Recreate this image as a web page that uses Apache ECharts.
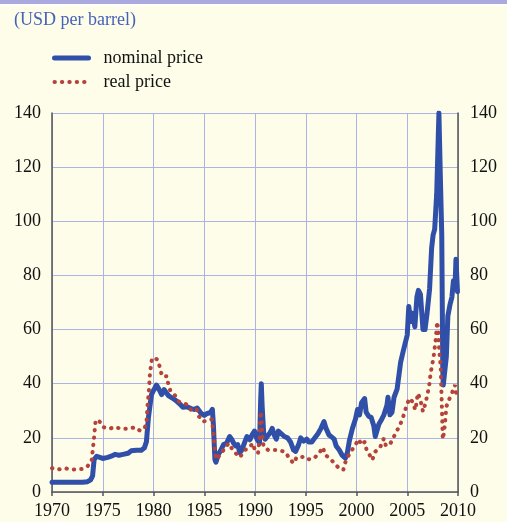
<!DOCTYPE html>
<html>
<head>
<meta charset="utf-8">
<script src="https://cdn.jsdelivr.net/npm/echarts@6/dist/echarts.min.js"></script>
<style>
html,body{margin:0;padding:0;background:#fdfde9;}
#chart{width:507px;height:522px;}
</style>
</head>
<body>
<div id="chart"></div>
<script>
// ---- data ----
var titleText = '(USD per barrel)';
var seriesNames = ['nominal price', 'real price'];
var xTicks = [1970, 1975, 1980, 1985, 1990, 1995, 2000, 2005, 2010];
var yTicks = [0, 20, 40, 60, 80, 100, 120, 140];

var nominalYears = [1970.0,1970.5,1971.0,1971.5,1972.0,1972.5,1973.0,1973.5,1973.8,1974.0,1974.15,1974.4,1974.7,1975.0,1975.5,1975.9,1976.2,1976.6,1977.0,1977.5,1977.8,1978.3,1978.8,1979.1,1979.3,1979.5,1979.8,1980.0,1980.3,1980.6,1980.8,1981.05,1981.3,1981.5,1981.9,1982.3,1982.6,1982.9,1983.3,1983.7,1984.0,1984.3,1984.7,1985.0,1985.3,1985.6,1985.8,1985.9,1986.05,1986.15,1986.4,1986.6,1986.9,1987.2,1987.5,1987.7,1987.9,1988.1,1988.3,1988.5,1988.7,1989.0,1989.2,1989.5,1989.7,1989.95,1990.2,1990.45,1990.55,1990.62,1990.7,1990.85,1991.0,1991.2,1991.5,1991.7,1991.9,1992.1,1992.3,1992.6,1992.9,1993.2,1993.5,1993.8,1994.0,1994.3,1994.5,1994.8,1995.1,1995.3,1995.6,1995.9,1996.2,1996.5,1996.8,1997.0,1997.3,1997.5,1997.8,1998.0,1998.3,1998.6,1998.9,1999.1,1999.3,1999.6,1999.9,2000.1,2000.3,2000.5,2000.8,2000.95,2001.2,2001.45,2001.7,2001.85,2002.0,2002.2,2002.5,2002.7,2003.0,2003.1,2003.3,2003.5,2003.7,2004.0,2004.35,2004.6,2004.8,2005.0,2005.15,2005.35,2005.5,2005.75,2005.95,2006.1,2006.3,2006.55,2006.75,2006.95,2007.2,2007.4,2007.55,2007.7,2007.9,2008.12,2008.27,2008.4,2008.5,2008.55,2008.7,2008.85,2009.0,2009.2,2009.4,2009.55,2009.7,2009.8,2009.95];
var nominalPrice = [3.6,3.6,3.6,3.6,3.6,3.6,3.6,3.8,4.5,6,12,13.2,12.8,12.4,12.8,13.3,13.9,13.6,13.9,14.3,15.2,15.4,15.4,16.3,18.5,27.5,36,37.5,39.5,37.5,36,37.8,36.5,35.5,34.6,33.5,32.5,31.3,31.5,30.8,30.5,31,29,28.3,29,29.3,30.5,25,12,11,14,15.2,17.5,18,20.5,19.5,18,17,17.5,14.5,15.5,18.5,20.5,19.3,21,22.5,19.5,18,33,40,32,22,19.5,20.5,22,23.5,21,19.5,22.5,21.5,20.5,20,18.5,15.5,15,17.5,20,18.8,19.5,18.5,18.5,20,21.5,23.5,26,23.5,21,20.5,19.5,17,15.5,13.5,12.5,14.5,19,23.5,27,30.5,28.5,33,34.5,29.5,28,27.5,24.5,20.5,20.5,25,27,28.5,32,35,28.5,29.5,35,38,48,52,55,58,68.5,63,66,61,72,74.5,73,60,60,66,75,90,95,97,110,140,115,95,45,39.5,40,50,65,69,72,78,75,86,74];

var realYears = [1970.0,1970.6,1971.2,1971.8,1972.4,1973.0,1973.5,1973.9,1974.05,1974.15,1974.3,1974.7,1975.0,1975.7,1976.2,1976.85,1977.5,1978.2,1978.7,1979.15,1979.3,1979.4,1979.55,1979.65,1979.85,1980.1,1980.35,1980.5,1980.65,1980.85,1981.3,1981.45,1981.65,1982.1,1982.5,1982.9,1983.4,1983.75,1984.25,1984.45,1984.65,1984.9,1985.4,1985.75,1985.9,1986.05,1986.2,1986.4,1986.9,1987.4,1987.9,1988.1,1988.5,1989.0,1989.5,1989.75,1990.0,1990.3,1990.45,1990.55,1990.62,1990.75,1990.85,1991.3,1991.6,1992.1,1992.95,1993.4,1993.8,1994.1,1994.95,1995.3,1995.8,1996.3,1996.7,1996.9,1997.4,1997.95,1998.4,1998.7,1998.9,1999.4,1999.8,2000.2,2000.5,2000.8,2001.0,2001.4,2001.55,2001.85,2002.35,2002.7,2002.9,2003.35,2003.85,2004.2,2004.5,2004.8,2005.2,2005.5,2005.8,2006.05,2006.3,2006.55,2006.8,2007.15,2007.3,2007.6,2007.8,2007.95,2008.05,2008.15,2008.3,2008.42,2008.5,2008.62,2008.72,2008.85,2009.1,2009.4,2009.7,2009.9];
var realPrice = [8.8,8.3,8.8,8.4,8.3,8.5,9.5,11.5,16.7,20.4,26.6,26,24,23.4,24,23.3,23.4,23.9,22.6,23.9,25.4,31.5,37.7,43.8,49.4,49.5,49,48,45.5,42.8,42.8,40,37.5,35.8,33.4,33,32.1,30,30.5,28,27.2,26,26.6,26.8,22,15,12,13,15.5,18,15,14.3,12.8,15.5,16.5,18,15.5,14.3,20,29.7,27.8,20,16.7,15.5,15.5,15.5,14.9,12.4,10.6,12.8,13,12.1,12.4,14.3,16.5,13.7,12.4,10,8.4,8.2,11,14.9,16.7,19.5,17.4,18.5,15.5,13,11.8,14.9,16.7,19.8,17,18,21.7,24.1,26.6,30.3,34.6,33.4,30.3,36.5,34,29.7,32.8,38.9,43.8,50,56.2,62.9,60,52.5,46,30,19.5,22,25.4,31.5,34,36.5,39.5,34.6];

function pairs(xs, ys) {
  var out = [];
  for (var i = 0; i < xs.length; i++) out.push([xs[i], ys[i]]);
  return out;
}

var serif = "'Liberation Serif', 'Times New Roman', serif";
var axisDark = '#555555';
var gridBlue = '#aeb3e6';
var blue = '#2f4fa8';
var red = '#b5433b';
var fs = 18;

var nominalLine = {color: blue, width: 5, join: 'round', cap: 'round'};
var realLine = {color: red, width: 4, type: [0.4, 7], cap: 'round'};

var chart = echarts.init(document.getElementById('chart'), null, {renderer: 'canvas'});
chart.setOption({
  backgroundColor: '#fdfde9',
  animation: false,
  graphic: [
    {type: 'rect', left: 0, top: 0, shape: {width: 507, height: 4}, style: {fill: '#a9a9dd'}, z: 10},
    {type: 'rect', left: 0, top: 4, shape: {width: 507, height: 2}, style: {fill: '#ffffff'}, z: 10}
  ],
  title: {
    text: titleText,
    left: 9,
    top: 6,
    textStyle: {fontFamily: serif, fontSize: fs, fontWeight: 'normal', color: '#4662b8'}
  },
  legend: {
    orient: 'vertical',
    left: 52,
    top: 49,
    padding: 0,
    itemWidth: 34,
    itemHeight: 14,
    itemGap: 6,
    itemStyle: {opacity: 0},
    data: [
      {name: seriesNames[0], lineStyle: nominalLine},
      {name: seriesNames[1], lineStyle: realLine}
    ],
    textStyle: {fontFamily: serif, fontSize: fs, color: '#111', padding: [0, 0, 0, 10]}
  },
  grid: {left: 52, right: 49, top: 113, bottom: 30, containLabel: false},
  xAxis: {
    type: 'value',
    min: 1970,
    max: 2010,
    interval: 5,
    axisLine: {show: true, onZero: false, lineStyle: {color: axisDark, width: 1.5}},
    axisTick: {show: true, length: 4, lineStyle: {color: axisDark, width: 1.5}},
    axisLabel: {fontFamily: serif, fontSize: fs, color: '#111', margin: 10,
      formatter: function (v) { return String(v); }},
    splitLine: {show: true, lineStyle: {color: gridBlue, width: 1}}
  },
  yAxis: [
    {
      type: 'value', min: 0, max: 140, interval: 20,
      axisLine: {show: true, lineStyle: {color: axisDark, width: 1.5}},
      axisTick: {show: false},
      axisLabel: {fontFamily: serif, fontSize: fs, color: '#111', margin: 11},
      splitLine: {show: true, lineStyle: {color: gridBlue, width: 1}}
    },
    {
      type: 'value', min: 0, max: 140, interval: 20, position: 'right',
      axisLine: {show: true, lineStyle: {color: axisDark, width: 1.5}},
      axisTick: {show: false},
      axisLabel: {fontFamily: serif, fontSize: fs, color: '#111', margin: 12},
      splitLine: {show: false}
    }
  ],
  series: [
    {
      name: seriesNames[0],
      type: 'line',
      data: pairs(nominalYears, nominalPrice),
      showSymbol: false,
      symbol: 'none',
      lineStyle: nominalLine,
      itemStyle: {color: blue},
      z: 2
    },
    {
      name: seriesNames[1],
      type: 'line',
      data: pairs(realYears, realPrice),
      showSymbol: false,
      symbol: 'none',
      lineStyle: realLine,
      itemStyle: {color: red},
      z: 3
    }
  ]
});
</script>
</body>
</html>
